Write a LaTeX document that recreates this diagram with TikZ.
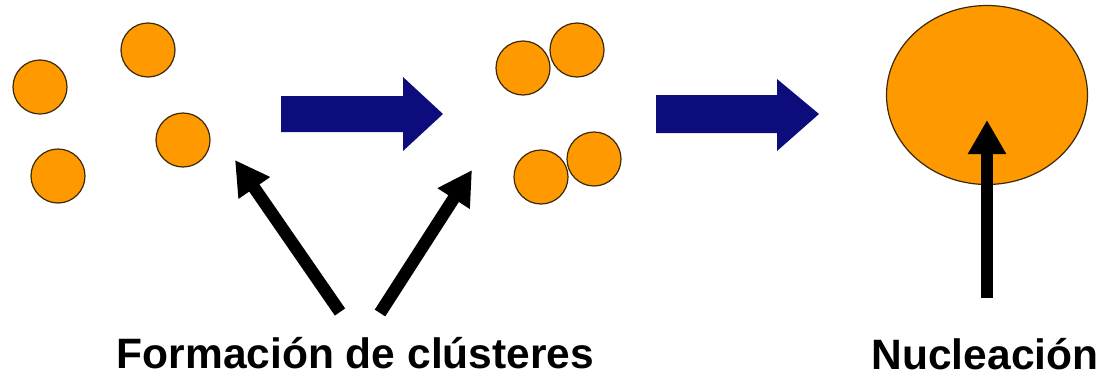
\documentclass[tikz,border=0pt]{standalone}
\usepackage{fontspec}
\setmainfont{Liberation Sans}
\usetikzlibrary{arrows.meta,shapes.geometric}
\definecolor{grain}{RGB}{255,153,0}
\definecolor{rim}{RGB}{60,40,10}
\definecolor{navy}{RGB}{12,12,124}
\tikzset{
  grainnode/.style={circle, fill=grain, draw=rim, line width=1.2pt,
    minimum size=54pt, inner sep=0pt},
  nucleus/.style={ellipse, fill=grain, draw=rim, line width=1.2pt,
    minimum width=201pt, minimum height=179pt, inner sep=0pt},
  blockarrow/.style={fill=navy, draw=none},
  pointer/.style={line width=12.5pt, -{Triangle[length=34pt,width=36pt]}},
  caption/.style={font=\bfseries\fontsize{42.5}{50}\selectfont, anchor=base,
    inner sep=0pt}
}
\begin{document}
\begin{tikzpicture}[x=1pt,y=-1pt]
\useasboundingbox (0,0) rectangle (1105,383);

% free particles
\node[grainnode] (g1) at (40,87) {};
\node[grainnode] (g2) at (148,50) {};
\node[grainnode] (g3) at (183,140) {};
\node[grainnode] (g4) at (58,176) {};

% clusters of two
\node[grainnode] (c1) at (523,68) {};
\node[grainnode] (c2) at (577,50) {};
\node[grainnode] (c3) at (541,177) {};
\node[grainnode] (c4) at (594,159) {};

% nucleus
\node[nucleus] (n) at (987,95) {};

% process arrows
\fill[blockarrow] (281,96) -- (403,96) -- (403,77) -- (443,114) -- (403,151)
  -- (403,132) -- (281,132) -- cycle;
\fill[blockarrow] (656,95) -- (777,95) -- (777,79) -- (819,114) -- (777,151)
  -- (777,133) -- (656,133) -- cycle;

% captions
\node[caption] (fc) at (355.5,368) {Formación de clústeres};
\node[caption] (nu) at (985,369) {Nucleación};

% pointers
\coordinate (t1) at (340,312);
\coordinate (h1) at (235,160);
\coordinate (t2) at (380,313);
\coordinate (h2) at (472,170);
\coordinate (t3) at (987,298);
\coordinate (h3) at (987,120);
\draw[pointer] (t1) -- (h1);
\draw[pointer] (t2) -- (h2);
\draw[pointer] (t3) -- (h3);
\end{tikzpicture}
\end{document}
